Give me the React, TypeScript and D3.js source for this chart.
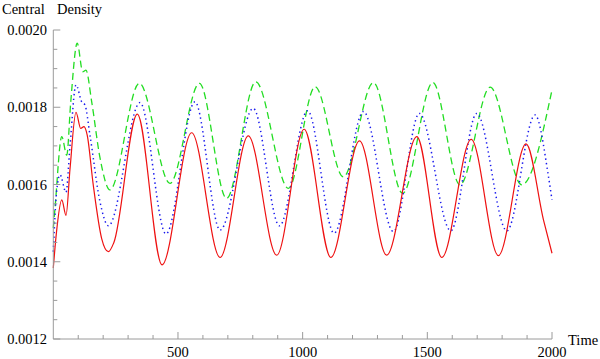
import React, { useEffect } from 'react';
import * as d3 from 'd3';

// values (time, central density)
const redTime = [0, 13, 34, 51, 67, 91, 110, 123, 136, 160, 194, 221, 243, 337, 436, 555, 669, 782, 896, 1006, 1113, 1228, 1337, 1458, 1558, 1676, 1785, 1896, 1966, 2000];
const redValue = [0.001384, 0.001478, 0.00156, 0.00152, 0.00164, 0.001787, 0.001745, 0.00175, 0.001728, 0.0016, 0.00146, 0.001426, 0.00145, 0.001782, 0.001392, 0.001734, 0.001411, 0.001726, 0.001417, 0.001743, 0.001411, 0.001713, 0.001417, 0.001724, 0.001411, 0.001717, 0.001416, 0.001705, 0.001508, 0.001422];

const blueTime = [0, 13, 27, 51, 67, 91, 114, 127, 147, 187, 221, 348, 452, 568, 669, 802, 907, 1020, 1126, 1244, 1364, 1468, 1594, 1698, 1819, 1932, 1986, 2000];
const blueValue = [0.001426, 0.00158, 0.001625, 0.00158, 0.0017, 0.001858, 0.001814, 0.001806, 0.001728, 0.001556, 0.001493, 0.001812, 0.001472, 0.001814, 0.001482, 0.001797, 0.001493, 0.001791, 0.001474, 0.001789, 0.001478, 0.001784, 0.00148, 0.001784, 0.00148, 0.00178, 0.00162, 0.00156];

const greenTime = [0, 7, 34, 54, 70, 96, 118, 131, 154, 187, 227, 345, 468, 586, 695, 812, 943, 1050, 1163, 1284, 1401, 1522, 1631, 1752, 1879, 2000];
const greenValue = [0.001487, 0.00154, 0.001724, 0.001676, 0.001814, 0.001966, 0.001892, 0.001896, 0.001814, 0.00167, 0.001586, 0.001862, 0.001603, 0.001862, 0.001564, 0.001866, 0.00159, 0.001853, 0.00162, 0.001864, 0.001577, 0.001864, 0.001599, 0.001852, 0.001599, 0.001845];

const xMajor = [500, 1000, 1500, 2000];
const yMajor = [0.0012, 0.0014, 0.0016, 0.0018, 0.002];

const W = 600;
const H = 359;

export default function App() {
  useEffect(() => {
    document.body.style.margin = '0';
  }, []);

  const x = d3.scaleLinear().domain([0, 2000]).range([53.3, 552]);
  const y = d3.scaleLinear().domain([0.0012, 0.002]).range([339, 30]);

  const line = d3.line<[number, number]>()
    .x(d => x(d[0]))
    .y(d => y(d[1]))
    .curve(d3.curveMonotoneX);

  const zip = (t: number[], v: number[]) => t.map((tt, i) => [tt, v[i]] as [number, number]);

  const xMinor = d3.range(100, 2001, 100).filter(t => t % 500 !== 0);
  const yMinor = d3.range(0, 17).map(i => 0.0012 + i * 0.00005).filter((v, i) => i % 4 !== 0);

  const axisColor = '#9a9a9a';
  const txt = { fontFamily: 'Liberation Serif', fontSize: '14.5px' };

  return (
    <svg width={W} height={H} style={{ display: 'block', background: '#fff' }}>
      {/* curves */}
      <path d={line(zip(greenTime, greenValue)) || ''} fill="none" stroke="#22dd22" strokeWidth={1.3} strokeDasharray="7 4" />
      <path d={line(zip(blueTime, blueValue)) || ''} fill="none" stroke="#1a1aee" strokeWidth={1.5} strokeDasharray="1.4 3.2" />
      <path d={line(zip(redTime, redValue)) || ''} fill="none" stroke="#ee1111" strokeWidth={1.2} />

      {/* y axis */}
      <line x1={x(0)} x2={x(0)} y1={y(0.0012)} y2={y(0.002)} stroke={axisColor} strokeWidth={1} />
      {yMajor.map(v => (
        <g key={'ym' + v}>
          <line x1={x(0)} x2={x(0) + 7} y1={y(v)} y2={y(v)} stroke={axisColor} />
          <text x={47} y={y(v) + 5} style={txt} textAnchor="end" fill="#000">{v.toFixed(4)}</text>
        </g>
      ))}
      {yMinor.map(v => (
        <line key={'yn' + v} x1={x(0)} x2={x(0) + 4} y1={y(v)} y2={y(v)} stroke={axisColor} />
      ))}

      {/* x axis */}
      <line x1={x(0)} x2={x(2000)} y1={y(0.0012)} y2={y(0.0012)} stroke={axisColor} strokeWidth={1} />
      {xMajor.map(t => (
        <g key={'xm' + t}>
          <line x1={x(t)} x2={x(t)} y1={y(0.0012)} y2={y(0.0012) - 7} stroke={axisColor} />
          <text x={x(t)} y={357} style={txt} textAnchor="middle" fill="#000">{t}</text>
        </g>
      ))}
      {xMinor.map(t => (
        <line key={'xn' + t} x1={x(t)} x2={x(t)} y1={y(0.0012)} y2={y(0.0012) - 4} stroke={axisColor} />
      ))}

      {/* axis labels */}
      <text x={2} y={14} style={txt} fill="#000">Central</text>
      <text x={57} y={14} style={txt} fill="#000">Density</text>
      <text x={568} y={345} style={txt} fill="#000">Time</text>
    </svg>
  );
}
